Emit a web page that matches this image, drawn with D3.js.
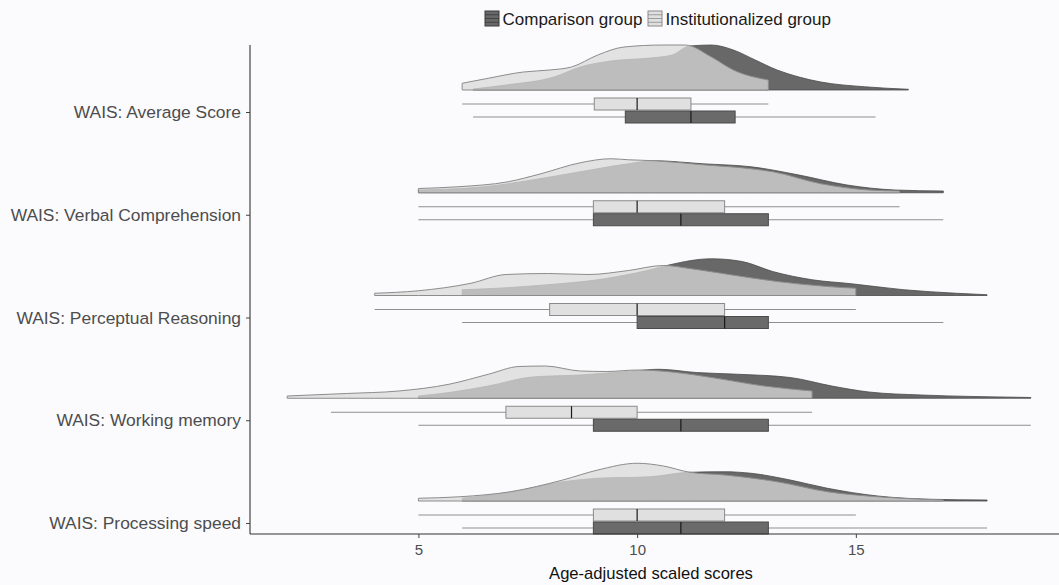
<!DOCTYPE html>
<html>
<head>
<meta charset="utf-8">
<script src="https://cdn.jsdelivr.net/npm/d3@7"></script>
<style>
  body { margin: 0; background: #fbfbfd; }
  svg { display: block; font-family: "Liberation Sans", Arial, sans-serif; }
</style>
</head>
<body>
<svg width="1059" height="585"></svg>
<script>
// categories, top to bottom
var categories = ["WAIS: Average Score", "WAIS: Verbal Comprehension", "WAIS: Perceptual Reasoning",
  "WAIS: Working memory", "WAIS: Processing speed"];
var groups = ["Comparison group", "Institutionalized group"];
var xTicks = [5, 10, 15];

// box stats: [lower whisker, q1, median, q3, upper whisker]
var compBox = [[6.25, 9.73, 11.23, 12.24, 15.45], [5, 9, 11, 13, 17], [6, 10, 12, 13, 17], [5, 9, 11, 13, 19], [6, 9, 11, 13, 18]];
var instBox = [[6, 9.02, 10, 11.23, 13], [5, 9, 10, 12, 16], [4, 8, 10, 12, 15], [3, 7, 8.5, 10, 14], [5, 9, 10, 12, 15]];

// densities [score, density]
var compDensity = [
  [[6.25,0.004],[7.0,0.02],[8.1,0.052],[8.7,0.092],[9.4,0.116],[10.3,0.128],[10.8,0.14],[11.2,0.176],[11.7,0.18],[12.2,0.16],[12.7,0.12],[13.2,0.08],[13.7,0.052],[14.2,0.032],[15.2,0.013],[16.2,0.003]],
  [[5,0.011],[6.5,0.024],[7.6,0.051],[8.7,0.084],[9.8,0.116],[10.4,0.128],[11.5,0.116],[12.6,0.104],[13.7,0.071],[14.8,0.031],[15.9,0.011],[17,0.007]],
  [[6,0.023],[6.8,0.029],[7.95,0.043],[9.1,0.063],[10.3,0.103],[10.75,0.123],[11.7,0.147],[12.4,0.136],[13.1,0.096],[14.0,0.063],[14.9,0.047],[16.1,0.023],[17.3,0.009],[18,0.003]],
  [[5,0.009],[5.7,0.023],[6.6,0.049],[7.6,0.085],[8.7,0.093],[9.9,0.109],[10.5,0.116],[11.35,0.103],[12.3,0.096],[13.5,0.083],[14.45,0.049],[15.3,0.025],[16.5,0.013],[17.7,0.007],[19,0.003]],
  [[6,0.011],[7.1,0.035],[8.3,0.077],[9.1,0.091],[10.3,0.097],[11.2,0.115],[12.0,0.117],[12.6,0.111],[13.5,0.084],[14.35,0.051],[15.5,0.02],[16.7,0.007],[18,0.004]]
];
var instDensity = [
  [[6.0,0.027],[6.6,0.047],[7.4,0.072],[8.0,0.08],[8.5,0.092],[9.1,0.14],[9.7,0.172],[10.6,0.18],[11.1,0.18],[11.7,0.132],[12.2,0.08],[13.0,0.04]],
  [[5,0.017],[5.9,0.024],[7.05,0.044],[7.8,0.076],[8.7,0.12],[9.4,0.136],[9.8,0.132],[10.4,0.128],[11.5,0.112],[12.6,0.096],[13.1,0.084],[14.2,0.036],[15.3,0.011],[16,0.007]],
  [[4,0.009],[5,0.019],[6.2,0.049],[7,0.084],[7.95,0.088],[8.9,0.084],[9.8,0.1],[10.6,0.12],[11.2,0.108],[12.1,0.084],[13.2,0.056],[14.35,0.036],[15,0.029]],
  [[2,0.009],[3.35,0.019],[4.55,0.029],[5.7,0.056],[6.6,0.096],[7.3,0.127],[7.9,0.129],[8.7,0.109],[9.3,0.107],[10.0,0.113],[10.9,0.103],[11.7,0.083],[12.9,0.049],[14,0.029]],
  [[5,0.011],[5.95,0.017],[7.1,0.037],[8.3,0.084],[9.1,0.124],[10.0,0.151],[10.6,0.14],[11.2,0.115],[12.0,0.104],[13.2,0.077],[14.35,0.037],[15.5,0.017],[17,0.004]]
];
/////////////////////////////////////
var darkFill = "#686868", lightFill = "#d9d9d9";

var svg = d3.select("svg"),
  margin = {top: 45, right: -9, bottom: 51, left: 250},
  width = +svg.attr("width") - margin.left - margin.right,
  height = +svg.attr("height") - margin.top - margin.bottom;

svg.append("rect").attr("width", 1059).attr("height", 585).attr("fill", "#fbfbfd");

var g = svg.append("g").attr("transform", "translate(" + margin.left + "," + margin.top + ")");

var x = d3.scaleLinear().domain([1.15, 19.85]).range([0, width]);
var y = d3.scalePoint().domain(categories).range([67, 478]);
var h = d3.scaleLinear().domain([0, 0.2]).range([0, 50]);

// densities
categories.forEach(function (c, i) {
  var base = y(c) - 22;
  var area = d3.area()
    .x(function (d) { return x(d[0]); })
    .y0(base)
    .y1(function (d) { return base - h(d[1]); })
    .curve(d3.curveMonotoneX);
  g.append("path").datum(compDensity[i])
    .attr("d", area)
    .attr("fill", darkFill)
    .attr("stroke", "#4a4a4a")
    .attr("stroke-width", 0.8);
  g.append("path").datum(instDensity[i])
    .attr("d", area)
    .attr("fill", lightFill)
    .attr("fill-opacity", 0.75)
    .attr("stroke", "#8c8c8c")
    .attr("stroke-width", 1);
});

// boxplots
function drawBox(stats, cy, fill, stroke) {
  g.append("line")
    .attr("x1", x(stats[0])).attr("x2", x(stats[4]))
    .attr("y1", cy).attr("y2", cy)
    .attr("stroke", "#8f8f8f").attr("stroke-width", 1);
  g.append("rect")
    .attr("x", x(stats[1])).attr("y", cy - 6)
    .attr("width", x(stats[3]) - x(stats[1])).attr("height", 12)
    .attr("fill", fill).attr("stroke", stroke).attr("stroke-width", 1);
  g.append("line")
    .attr("x1", x(stats[2])).attr("x2", x(stats[2]))
    .attr("y1", cy - 6).attr("y2", cy + 6)
    .attr("stroke", "#1a1a1a").attr("stroke-width", 1.2);
}
categories.forEach(function (c, i) {
  drawBox(instBox[i], y(c) - 8, "#e0e0e0", "#8a8a8a");
  drawBox(compBox[i], y(c) + 5, "#6a6a6a", "#4a4a4a");
});

// axes
var xAxis = g.append("g")
  .attr("transform", "translate(0," + height + ")")
  .call(d3.axisBottom(x).tickValues(xTicks).tickSize(4).tickPadding(6));
xAxis.select(".domain").remove();
xAxis.selectAll("text").attr("font-size", 15).attr("fill", "#4d4d4d").attr("font-family", "Liberation Sans, Arial, sans-serif");
xAxis.selectAll("line").attr("stroke", "#444");

var yAxis = g.append("g")
  .call(d3.axisLeft(y).tickSize(4).tickPadding(5));
yAxis.select(".domain").remove();
yAxis.selectAll("text").attr("font-size", 17.4).attr("fill", "#4d4d4d").attr("font-family", "Liberation Sans, Arial, sans-serif");
yAxis.selectAll("line").attr("stroke", "#444");

g.append("line").attr("x1", 0).attr("x2", width).attr("y1", height).attr("y2", height)
  .attr("stroke", "#333").attr("stroke-width", 1.1);
g.append("line").attr("x1", 0).attr("x2", 0).attr("y1", 0).attr("y2", height)
  .attr("stroke", "#333").attr("stroke-width", 1.1);

// axis title
svg.append("text")
  .attr("x", 651).attr("y", 579)
  .attr("text-anchor", "middle")
  .attr("font-size", 16.6).attr("fill", "#111")
  .text("Age-adjusted scaled scores");

// legend
var legendX = [485, 648];
var legendFill = [darkFill, "#e0e0e0"], legendStroke = ["#3a3a3a", "#8a8a8a"];
groups.forEach(function (name, i) {
  var lg = svg.append("g").attr("transform", "translate(" + legendX[i] + ",11)");
  lg.append("rect").attr("width", 14).attr("height", 15)
    .attr("fill", legendFill[i]).attr("stroke", legendStroke[i]);
  [3.75, 7.5, 11.25].forEach(function (yy) {
    lg.append("line").attr("x1", 0).attr("x2", 14).attr("y1", yy).attr("y2", yy)
      .attr("stroke", legendStroke[i]).attr("stroke-width", 0.8);
  });
  lg.append("text").attr("x", 17.5).attr("y", 13.5)
    .attr("font-size", 17).attr("fill", "#1a1a1a")
    .text(name);
});
</script>
</body>
</html>
